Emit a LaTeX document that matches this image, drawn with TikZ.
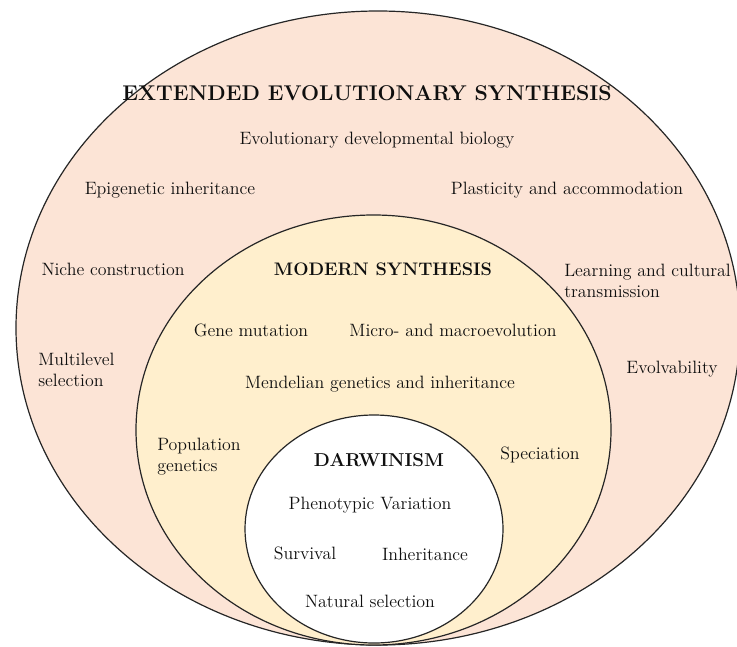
\documentclass[tikz,border=0pt]{standalone}
\usetikzlibrary{positioning}
\definecolor{outerfill}{RGB}{252,228,214}
\definecolor{midfill}{RGB}{255,239,205}
\definecolor{txt}{RGB}{15,15,15}
\begin{document}
\begin{tikzpicture}[x=0.75pt,y=-0.75pt,
  ring/.style={draw=black!85,line width=0.9pt},
  lbl/.style={inner sep=0pt,text=txt,font=\fontsize{13.4}{15.75}\selectfont},
  lbll/.style={lbl,align=left},
  ttl/.style={inner sep=0pt,text=txt,font=\fontsize{16}{18}\selectfont\bfseries}]
\useasboundingbox (0,0) rectangle (737,646);
\fill[white] (0,0) rectangle (737,646);
% rings
\filldraw[ring,fill=outerfill] (378,328) ellipse [x radius=362, y radius=317];
\filldraw[ring,fill=midfill] (373.5,430) ellipse [x radius=237.5, y radius=215];
\filldraw[ring,fill=white] (374,529) ellipse [x radius=129, y radius=114];
% extended
\node[ttl] (ees) at (367,93) {EXTENDED EVOLUTIONARY SYNTHESIS};
\node[lbl] (evodevo) at (377,140) {Evolutionary developmental biology};
\node[lbl] (epi) at (170,190) {Epigenetic inheritance};
\node[lbl] (plast) at (567,190) {Plasticity and accommodation};
\node[lbl] (niche) at (113,269) {Niche construction};
\node[lbll,anchor=west] (learn) at (564,280.5) {Learning and cultural\\transmission};
\node[lbll,anchor=west] (multi) at (38,370) {Multilevel\\selection};
\node[lbl] (evolv) at (672,369) {Evolvability};
% modern
\node[ttl,font=\fontsize{13.6}{16}\selectfont\bfseries] (ms) at (383,269) {MODERN SYNTHESIS};
\node[lbl] (gene) at (251,330) {Gene mutation};
\node[lbl] (micro) at (453,330) {Micro- and macroevolution};
\node[lbl] (mendel) at (380,384) {Mendelian genetics and inheritance};
\node[lbll,anchor=west] (popgen) at (157,456.5) {Population\\genetics};
\node[lbl] (spec) at (540,455) {Speciation};
% darwinism
\node[ttl,font=\fontsize{14}{16}\selectfont\bfseries] (dar) at (379,460) {DARWINISM};
\node[lbl] (pheno) at (370,505) {Phenotypic Variation};
\node[lbl] (surv) at (305,553) {Survival};
\node[lbl] (inh) at (425,554) {Inheritance};
\node[lbl] (nat) at (370,601) {Natural selection};
\end{tikzpicture}
\end{document}
